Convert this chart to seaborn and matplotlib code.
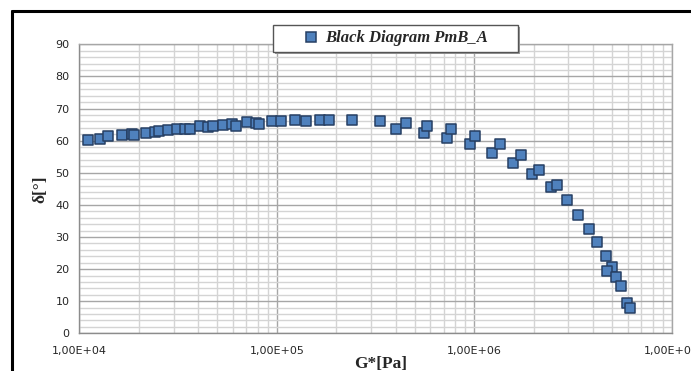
import numpy as np
import pandas as pd
import matplotlib
matplotlib.use("Agg")
import matplotlib.pyplot as plt
from matplotlib.ticker import LogLocator, MultipleLocator, FixedLocator, FixedFormatter, NullFormatter
from matplotlib.patches import Rectangle
from matplotlib.lines import Line2D
import seaborn as sns

# ---- data ----
g_star_pa = [
    1.107e4, 1.27e4, 1.40e4, 1.65e4, 1.85e4, 1.89e4, 2.18e4, 2.43e4, 2.54e4, 2.82e4,
    3.13e4, 3.42e4, 3.62e4, 4.08e4, 4.49e4, 4.78e4, 5.32e4, 5.92e4, 6.22e4, 7.10e4,
    7.85e4, 8.17e4, 9.44e4, 1.047e5, 1.24e5, 1.40e5, 1.66e5, 1.84e5, 2.40e5, 3.35e5,
    4.01e5, 4.49e5, 5.56e5, 5.79e5, 7.29e5, 7.67e5, 9.53e5, 1.012e6, 1.233e6, 1.343e6,
    1.574e6, 1.722e6, 1.963e6, 2.123e6, 2.443e6, 2.618e6, 2.944e6, 3.357e6, 3.793e6,
    4.207e6, 4.624e6, 4.977e6, 4.699e6, 5.212e6, 5.546e6, 5.929e6, 6.166e6,
]
delta_deg = [
    60.3, 60.6, 61.4, 61.6, 62.0, 61.6, 62.4, 62.8, 63.0, 63.3,
    63.7, 63.6, 63.7, 64.6, 64.3, 64.6, 65.0, 65.1, 64.6, 65.8,
    65.6, 65.1, 66.2, 66.1, 66.4, 66.2, 66.4, 66.4, 66.5, 66.2,
    63.6, 65.5, 62.4, 64.7, 60.8, 63.6, 58.8, 61.4, 56.1, 58.8,
    53.0, 55.5, 49.5, 50.9, 45.6, 46.2, 41.4, 36.9, 32.5,
    28.3, 24.1, 20.7, 19.5, 17.6, 14.7, 9.5, 7.8,
]
series_name = "Black Diagram PmB_A"
x_tick_values = [1e4, 1e5, 1e6, 1e7]
x_tick_labels = ["1,00E+04", "1,00E+05", "1,00E+06", "1,00E+07"]
y_ticks = [0, 10, 20, 30, 40, 50, 60, 70, 80, 90]

df = pd.DataFrame({"G*": g_star_pa, "delta": delta_deg, "series": series_name})

sns.set_style("white")
plt.rcParams["font.family"] = ["DejaVu Sans"]

W, H = 691, 371
fig = plt.figure(figsize=(W / 100, H / 100), dpi=100)
fig.patch.set_facecolor("white")
ax = fig.add_axes([79.3 / W, 1 - 333.3 / H, (671.7 - 79.3) / W, (333.3 - 44.3) / H])

sns.scatterplot(data=df, x="G*", y="delta", marker="s", s=56, color="#4f81bd",
                edgecolor="#263f63", linewidth=1.1, ax=ax, legend=False, zorder=3)

ax.set_xscale("log")
ax.set_xlim(1e4, 1e7)
ax.set_ylim(0, 90)

ax.xaxis.set_major_locator(FixedLocator(x_tick_values))
ax.xaxis.set_major_formatter(FixedFormatter(x_tick_labels))
ax.xaxis.set_minor_locator(LogLocator(base=10, subs=np.arange(2, 10), numticks=20))
ax.xaxis.set_minor_formatter(NullFormatter())
ax.yaxis.set_major_locator(FixedLocator(y_ticks))
ax.yaxis.set_minor_locator(MultipleLocator(2))

ax.grid(which="major", color="#a6a6a6", linewidth=1.0, zorder=0)
ax.grid(which="minor", color="#d4d4d4", linewidth=1.0, zorder=0)
ax.set_axisbelow(True)

for side in ["top", "right"]:
    ax.spines[side].set_color("#a6a6a6")
    ax.spines[side].set_linewidth(1.0)
for side in ["left", "bottom"]:
    ax.spines[side].set_color("#8c8c8c")
    ax.spines[side].set_linewidth(1.0)

ax.tick_params(axis="both", which="major", direction="out", length=4, width=1,
               color="#8c8c8c", labelsize=8, labelcolor="#262626", pad=3)
ax.tick_params(axis="both", which="minor", length=0)
ax.tick_params(axis="x", pad=5)

ax.set_xlabel("G*[Pa]", family="Liberation Serif", fontweight="bold", fontsize=12.5)
ax.xaxis.set_label_coords(0.509, -0.078)
ax.set_ylabel("δ[°]", family="Liberation Serif", fontweight="bold", fontsize=12.5)
ax.yaxis.set_label_coords(-0.053, 0.5)

# legend box (with shadow), drawn in figure coordinates
lx0, ly0, lx1, ly1 = 273, 25, 518, 52
fig.patches.append(Rectangle(((lx0 + 2) / W, 1 - (ly1 + 2) / H), (lx1 - lx0) / W, (ly1 - ly0) / H,
                             transform=fig.transFigure, facecolor="#9a9a9a", edgecolor="none", zorder=1))
fig.patches.append(Rectangle((lx0 / W, 1 - ly1 / H), (lx1 - lx0) / W, (ly1 - ly0) / H,
                             transform=fig.transFigure, facecolor="white", edgecolor="#555555",
                             linewidth=1.0, zorder=2))
handle = Line2D([], [], linestyle="none", marker="s", markersize=7.5, markerfacecolor="#4f81bd",
                markeredgecolor="#263f63", markeredgewidth=1.1)
leg = fig.legend([handle], [series_name], loc="center left",
                 bbox_to_anchor=(303 / W, 1 - 38.5 / H), frameon=False,
                 handlelength=1.0, handletextpad=0.3, borderpad=0, borderaxespad=0,
                 prop={"family": "Liberation Serif", "weight": "bold", "style": "italic", "size": 12})
leg.set_zorder(5)

# outer black frame (partially visible)
fig.add_artist(Line2D([12 / W, 12 / W], [0, 1 - 11 / H], transform=fig.transFigure,
                      color="black", linewidth=2.2))
fig.add_artist(Line2D([12 / W, 1.0], [1 - 11 / H, 1 - 11 / H], transform=fig.transFigure,
                      color="black", linewidth=2.2))

fig.savefig("out.png", dpi=100, facecolor="white")
